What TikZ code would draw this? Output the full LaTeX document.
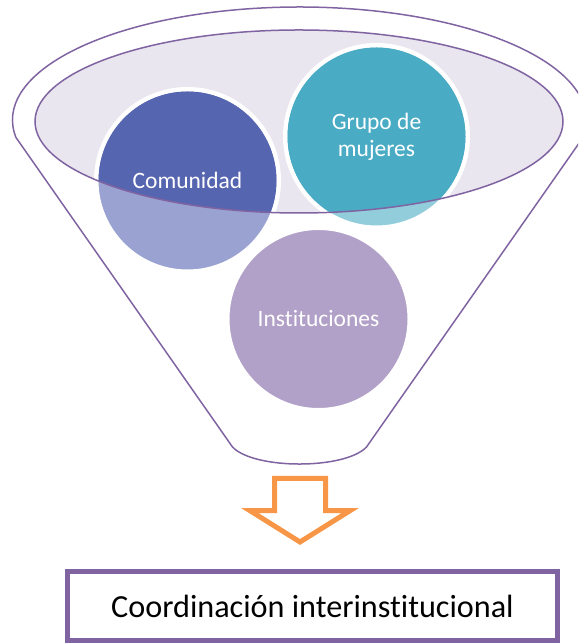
\documentclass[tikz,border=0pt]{standalone}
\usepackage{fontspec}
\setmainfont{Carlito}[Ligatures=NoCommon]
\definecolor{funnelline}{HTML}{8064A2}
\definecolor{glass}{HTML}{EAE6EF}
\definecolor{comfull}{HTML}{5665B0}
\definecolor{comlight}{HTML}{99A2D1}
\definecolor{grpfull}{HTML}{4AABC5}
\definecolor{grplight}{HTML}{92CDDB}
\definecolor{inscol}{HTML}{B1A0C7}
\definecolor{arrowcol}{HTML}{F79646}

\begin{document}
\begin{tikzpicture}[x=1pt, y=1pt,
  funnel/.style={draw=funnelline, line width=1.5pt},
  ring/.style={draw=white, line width=4.5pt},
  bubble/.style={text=white, align=center, font=\fontsize{23.5}{27}\selectfont},
  result/.style={draw=funnelline, line width=5pt, minimum width=490pt, minimum height=69pt, font=\fontsize{32.2}{37}\selectfont}]
\clip (0,0) rectangle (578,644);
\coordinate (com) at (187.5,463.5);
\coordinate (grp) at (376.5,507.5);
\coordinate (ins) at (318.5,325);
% Fill inner ellipse
\fill[glass] (299,522.5) ellipse [x radius=264, y radius=91.5];
% Draw circles in light colours
\filldraw[ring, fill=comlight] (com) circle [radius=91.25];
\filldraw[ring, fill=grplight] (grp) circle [radius=91.25];
\filldraw[ring, fill=inscol] (ins) circle [radius=91.25];
% Full colour inside the ellipse
\begin{scope}
\clip (299,522.5) ellipse [x radius=264, y radius=91.5];
\fill[comfull] (com) circle [radius=89];
\fill[grpfull] (grp) circle [radius=89];
\end{scope}
% Draw outlines of ellipse and funnel
\draw[funnel] (299,522.5) ellipse [x radius=264, y radius=91.5];
\draw[funnel] (299.5,524) ++(188.9:287 and 113)
  arc [start angle=188.9, end angle=-8.9, x radius=287, y radius=113]
  -- (366.5,197) .. controls (345,174.3) and (254,174.3) .. (232.5,197) -- cycle;
% Labels of the circles
\node[bubble] (comunidad) at (com) {Comunidad};
\node[bubble] (grupo) at (grp) {Grupo de\\mujeres};
\node[bubble] (instituciones) at (ins) {Instituciones};
% Draw arrow
\draw[arrowcol, fill=white, line width=5pt] (274.5,165.5) -- (325.5,165.5) -- (325.5,133.3)
  -- (350,133.3) -- (300,102) -- (250,133.3) -- (274.5,133.3) -- cycle;
% Result box
\node[result] (coord) at (312.5,37.5) {Coordinación interinstitucional};
\end{tikzpicture}
\end{document}
